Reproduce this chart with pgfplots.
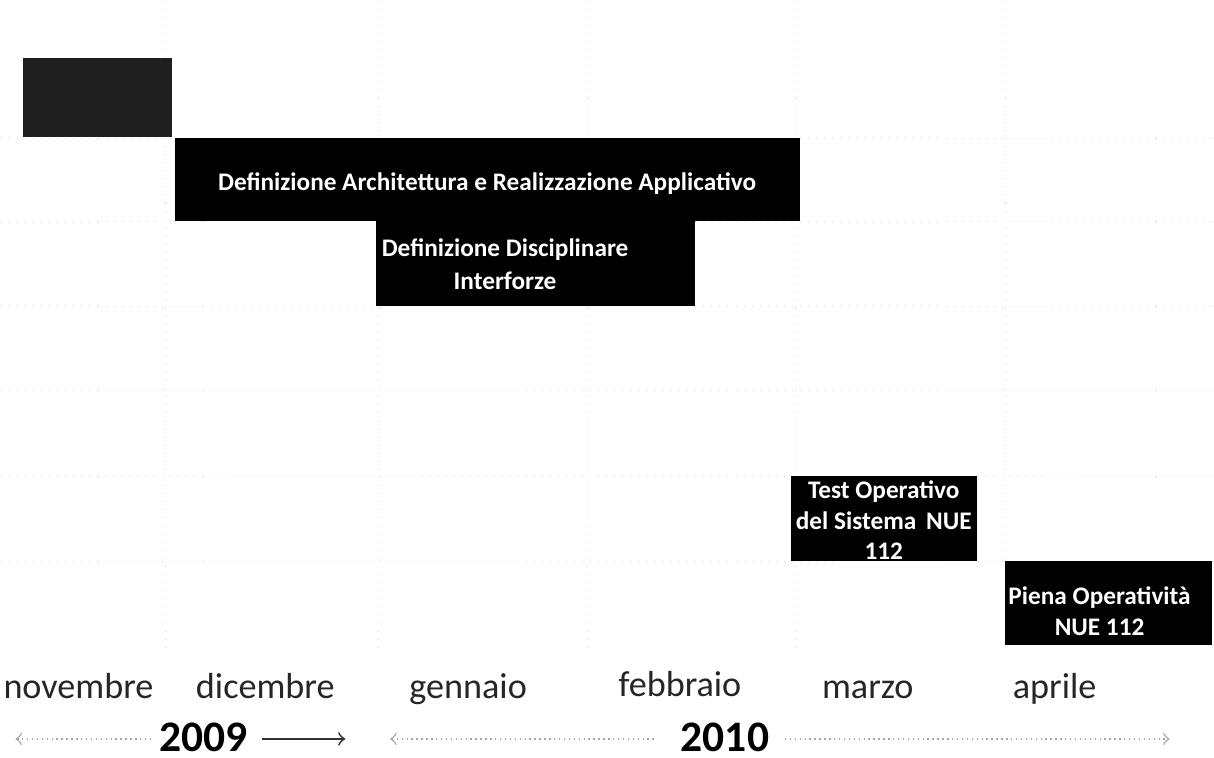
\documentclass[border=0pt]{standalone}
\usepackage{fontspec}
\setmainfont{Carlito}
\usepackage{pgfplots}
\pgfplotsset{compat=1.18}
\usepackage{pgfplotstable}
\begin{document}
\begin{tikzpicture}
\begin{axis}[
  width=12.14cm, height=7.58cm, scale only axis,
  xmin=0, xmax=1214, ymin=0, ymax=758, y dir=reverse,
  axis lines=none, ticks=none, clip=false,
]
\path (axis cs:0,0) rectangle (axis cs:1214,758);
% faint grid
\foreach \gx in {165,378,587,796,1006}{
  \edef\tmp{\noexpand\draw[gray!30, dotted, line width=0.3pt] (axis cs:\gx,0) -- (axis cs:\gx,650);}\tmp
}
\foreach \gy in {138,221,306,390,476,561}{
  \edef\tmp{\noexpand\draw[gray!30, dotted, line width=0.3pt] (axis cs:0,\gy) -- (axis cs:1214,\gy);}\tmp
}
% bars (start, end in px; top, bottom in px)
\addplot[fill=black!88, draw=none] coordinates {(22,58) (172,58) (172,137) (22,137)} -- cycle;
\addplot[fill=black, draw=none] coordinates {(175,138) (800,138) (800,221) (175,221)} -- cycle;
\addplot[fill=black, draw=none] coordinates {(376,221) (695,221) (695,306) (376,306)} -- cycle;
\addplot[fill=black, draw=none] coordinates {(791,476) (977,476) (977,561) (791,561)} -- cycle;
\addplot[fill=black, draw=none] coordinates {(1005,561) (1212,561) (1212,645) (1005,645)} -- cycle;
% bar labels
\node[white, inner sep=0pt, font=\fontsize{7.2}{8}\selectfont\bfseries] at (axis cs:487,183) {Definizione Architettura e Realizzazione Applicativo};
\node[white, inner sep=0pt, font=\fontsize{7.2}{9.4}\selectfont\bfseries, align=center] at (axis cs:505,264) {Definizione Disciplinare\\Interforze};
\node[white, inner sep=0pt, font=\fontsize{7.2}{8.7}\selectfont\bfseries, align=center, anchor=north] at (axis cs:884,480) {Test Operativo\\del Sistema \,NUE\\112};
\node[white, inner sep=0pt, font=\fontsize{7.2}{8.7}\selectfont\bfseries, align=center] at (axis cs:1100,611) {Piena Operatività\\NUE 112};
% months
\foreach \mx/\mn/\my in {78/novembre/699,265/dicembre/699,468/gennaio/699,680/febbraio/697,868/marzo/699,1055/aprile/699}{
  \edef\tmp{\noexpand\node[inner sep=0pt, anchor=base, font=\noexpand\fontsize{10.3}{12}\noexpand\selectfont, text=black!85] at (axis cs:\mx,\my) {\mn};}\tmp
}
% years
\node[inner sep=0pt, anchor=base, font=\fontsize{12.4}{14}\selectfont\bfseries] at (axis cs:203,752) {2009};
\node[inner sep=0pt, anchor=base, font=\fontsize{12.4}{14}\selectfont\bfseries] at (axis cs:725,752) {2010};
\draw[gray!70, densely dotted, line width=0.4pt, <-] (axis cs:15,739) -- (axis cs:150,739);
\draw[black!80, line width=0.5pt, ->] (axis cs:262,739) -- (axis cs:345,739);
\draw[gray!70, densely dotted, line width=0.4pt, <-] (axis cs:390,739) -- (axis cs:655,739);
\draw[gray!70, densely dotted, line width=0.4pt, ->] (axis cs:785,739) -- (axis cs:1170,739);
\end{axis}
\end{tikzpicture}
\end{document}
